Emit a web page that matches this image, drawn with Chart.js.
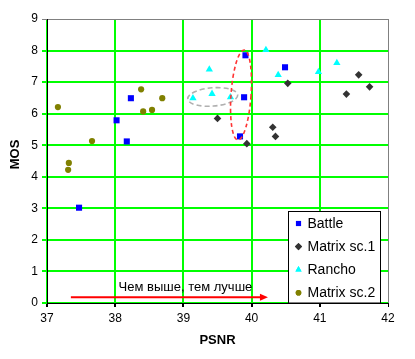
<!DOCTYPE html>
<html><head><meta charset="utf-8">
<script src="https://cdn.jsdelivr.net/npm/chart.js@4"></script>
<style>html,body{margin:0;padding:0;background:#fff}#wrap{width:415px;height:359px}</style>
</head><body><div id="wrap"><canvas id="c" width="415" height="359"></canvas></div>
<script>
const seriesNames = ['Battle', 'Matrix sc.1', 'Rancho', 'Matrix sc.2'];
const battleX  = [37.47, 38.02, 38.17, 38.23, 39.83, 39.89, 39.91, 40.49];
const battleY  = [3.02, 5.79, 5.12, 6.49, 5.28, 6.52, 7.85, 7.47];
const matrix1X = [39.50, 39.93, 40.31, 40.35, 40.53, 41.39, 41.57, 41.73];
const matrix1Y = [5.85, 5.05, 5.57, 5.28, 6.96, 6.62, 7.23, 6.85];
const ranchoX  = [39.14, 39.38, 39.42, 39.69, 40.21, 40.39, 40.98, 41.25];
const ranchoY  = [6.49, 7.40, 6.63, 6.52, 8.02, 7.23, 7.32, 7.61];
const matrix2X = [37.16, 37.31, 37.32, 37.66, 38.38, 38.41, 38.54, 38.69];
const matrix2Y = [6.21, 4.22, 4.44, 5.13, 6.77, 6.07, 6.12, 6.49];
const xTicks = [37, 38, 39, 40, 41, 42];
const yTicks = [0, 1, 2, 3, 4, 5, 6, 7, 8, 9];
const arrowText = 'Чем выше, тем лучше';

const pts = (xs, ys) => xs.map((x, i) => ({x, y: ys[i]}));
const FONT = '"Liberation Sans", Arial, sans-serif';

const styles = [
  {pointStyle: 'rect', color: '#0000ff', radius: 4.3},
  {pointStyle: 'rectRot', color: '#333333', radius: 3.8},
  {pointStyle: 'triangle', color: '#00ffff', radius: 4.2},
  {pointStyle: 'circle', color: '#808000', radius: 3.1}
];
const seriesData = [pts(battleX, battleY), pts(matrix1X, matrix1Y), pts(ranchoX, ranchoY), pts(matrix2X, matrix2Y)];

const datasets = seriesNames.map((name, i) => ({
  label: name,
  data: seriesData[i],
  showLine: false,
  pointStyle: styles[i].pointStyle,
  pointRadius: styles[i].radius,
  pointHoverRadius: styles[i].radius,
  pointBackgroundColor: styles[i].color,
  pointBorderColor: styles[i].color,
  pointBorderWidth: 0,
  backgroundColor: styles[i].color,
  borderColor: styles[i].color
}));

function drawMarker(ctx, style, x, y, r) {
  if (Chart.helpers && Chart.helpers.drawPoint) {
    Chart.helpers.drawPoint(ctx, {pointStyle: style.pointStyle, radius: r, borderWidth: 0, rotation: 0}, x, y);
    ctx.fill();
  }
}

const annotations = {
  id: 'annotations',
  afterDatasetsDraw(chart) {
    const {ctx, scales: {x, y}} = chart;
    ctx.save();
    const ell = [
      {cx: 39.43, cy: 6.53, rx: 0.367, ry: 0.29, rot: -0.08, color: '#b0b0b0', dash: [5, 3]},
      {cx: 39.845, cy: 6.59, rx: 0.147, ry: 1.43, rot: 0.07, color: '#ff3333', dash: [4, 3]}
    ];
    ell.forEach(e => {
      const px = x.getPixelForValue(e.cx), py = y.getPixelForValue(e.cy);
      const rxp = Math.abs(x.getPixelForValue(e.cx + e.rx) - px);
      const ryp = Math.abs(y.getPixelForValue(e.cy + e.ry) - py);
      ctx.beginPath();
      ctx.setLineDash(e.dash);
      ctx.lineWidth = 1.6;
      ctx.strokeStyle = e.color;
      ctx.ellipse(px, py, rxp, ryp, e.rot, 0, Math.PI * 2);
      ctx.stroke();
    });
    ctx.setLineDash([]);
    const ax0 = x.getPixelForValue(37.35), ax1 = x.getPixelForValue(40.24), ay = y.getPixelForValue(0.18);
    ctx.strokeStyle = '#ff0000';
    ctx.fillStyle = '#ff0000';
    ctx.lineWidth = 2;
    ctx.beginPath();
    ctx.moveTo(ax0, ay); ctx.lineTo(ax1 - 6, ay); ctx.stroke();
    ctx.beginPath();
    ctx.moveTo(ax1, ay); ctx.lineTo(ax1 - 8, ay - 3.5); ctx.lineTo(ax1 - 8, ay + 3.5); ctx.closePath(); ctx.fill();
    ctx.fillStyle = '#000';
    ctx.font = '13px ' + FONT;
    ctx.textBaseline = 'alphabetic';
    ctx.textAlign = 'left';
    ctx.fillText(arrowText, x.getPixelForValue(38.05), y.getPixelForValue(0.37));
    ctx.save();
    ctx.translate(15, 154.5);
    ctx.rotate(-Math.PI / 2);
    ctx.font = 'bold 13px ' + FONT;
    ctx.textAlign = 'center';
    ctx.textBaseline = 'middle';
    ctx.fillText('MOS', 0, 0);
    ctx.restore();
    const lx = 288.5, ly = 211.5, lw = 92, lh = 91.5;
    ctx.fillStyle = '#fff';
    ctx.fillRect(lx, ly, lw, lh);
    ctx.strokeStyle = '#000';
    ctx.lineWidth = 1;
    ctx.strokeRect(lx, ly, lw, lh);
    ctx.font = '14px ' + FONT;
    ctx.textBaseline = 'middle';
    seriesNames.forEach((name, i) => {
      const cy = 223.5 + i * 23.1;
      ctx.fillStyle = styles[i].color;
      drawMarker(ctx, styles[i], 298.5, cy, i === 3 ? 2.8 : 3.6);
      ctx.fillStyle = '#000';
      ctx.fillText(name, 307.5, cy + 0.5);
    });
    ctx.restore();
  }
};

const gridColor = (edgeVal) => (c) => (c.tick && c.tick.value === edgeVal) ? '#808080' : '#00ff00';
const gridWidth = (edgeVal) => (c) => (c.tick && c.tick.value === edgeVal) ? 1 : 2;

new Chart(document.getElementById('c'), {
  type: 'scatter',
  data: {datasets},
  options: {
    responsive: false,
    animation: false,
    devicePixelRatio: 1,
    layout: {padding: {left: 0, right: 27, top: 19, bottom: 0}},
    plugins: {legend: {display: false}, tooltip: {enabled: false}},
    scales: {
      x: {
        type: 'linear', min: 37, max: 42,
        afterFit(s) { s.height = 56; },
        afterBuildTicks(s) { s.ticks = xTicks.map(v => ({value: v})); },
        grid: {color: gridColor(42), lineWidth: gridWidth(42), tickLength: 4, tickColor: '#000'},
        border: {color: '#000', width: 1},
        ticks: {color: '#000', font: {family: FONT, size: 12}, padding: 4, maxRotation: 0},
        title: {display: true, text: 'PSNR', color: '#000', font: {family: FONT, size: 13, weight: 'bold'}, padding: {top: 0, bottom: 11}}
      },
      y: {
        type: 'linear', min: 0, max: 9,
        afterFit(s) { s.width = 47; },
        afterBuildTicks(s) { s.ticks = yTicks.map(v => ({value: v})); },
        grid: {color: gridColor(9), lineWidth: gridWidth(9), tickLength: 5},
        border: {color: '#000', width: 1},
        ticks: {color: '#000', font: {family: FONT, size: 12}, padding: 4}
      }
    }
  },
  plugins: [annotations]
});
</script></body></html>
